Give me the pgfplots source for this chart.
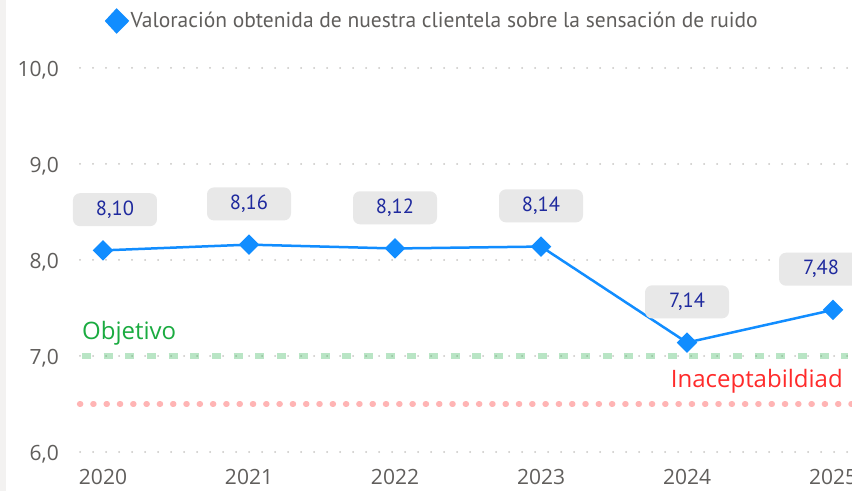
\documentclass[border=0pt]{standalone}
\usepackage{fontspec}
\setmainfont{Open Sans}
\newfontfamily\dinfont{PT Sans}
\usepackage{pgfplots}
\pgfplotsset{compat=1.18}
\definecolor{LineBlue}{HTML}{118DFF}
\definecolor{LabelBlue}{HTML}{1F2A9E}
\definecolor{BoxGray}{HTML}{E8E8E8}
\definecolor{TickGray}{HTML}{605E5C}
\definecolor{GridGray}{HTML}{C8C6C4}
\definecolor{GoalGreen}{HTML}{1AAB40}
\definecolor{BadRed}{HTML}{FF2B2B}
\definecolor{BadFill}{HTML}{FFB4B4}
\definecolor{Strip}{HTML}{F3F2F1}

\pgfplotsset{
  labelbox/.style={draw=none, forget plot,
    nodes near coords={\pgfmathprintnumber[fixed,fixed zerofill,precision=2,use comma,assume math mode=true]{\pgfplotspointmeta}},
    every node near coord/.append style={fill=BoxGray, rounded corners=7bp,
      minimum width=84bp, minimum height=33bp, inner sep=0pt,
      text=LabelBlue, font=\dinfont\fontsize{20.5bp}{24bp}\selectfont,
      anchor=south, yshift=24bp}},
}

\begin{document}
\begin{tikzpicture}
\clip (0bp,0bp) rectangle (852bp,491bp);
\fill[white] (0bp,0bp) rectangle (852bp,491bp);
\fill[Strip] (0bp,0bp) rectangle (6bp,491bp);
\begin{axis}[
  at={(80bp,39bp)}, anchor=south west,
  scale only axis, width=772bp, height=384bp,
  xmin=2019.8425, xmax=2025.13, ymin=6, ymax=10,
  axis line style={draw=none}, major tick length=0pt,
  xtick={2020,2021,2022,2023,2024,2025},
  xticklabels={2020,2021,2022,2023,2024,2025},
  ytick={6,7,8,9,10},
  yticklabels={{6,0},{7,0},{8,0},{9,0},{10,0}},
  ymajorgrids,
  major grid style={GridGray, line width=2bp, line cap=round, dash pattern=on 0bp off 13bp},
  tick label style={text=TickGray, font=\fontsize{21bp}{24bp}\selectfont},
  xticklabel style={anchor=base, yshift=-33bp, inner sep=0pt},
  yticklabel style={anchor=base east, xshift=-21bp, yshift=-9bp, inner sep=0pt},
  legend style={at={(0.4566,1.1224)}, anchor=center, draw=none, fill=none,
    font=\dinfont\fontsize{21.5bp}{24bp}\selectfont, text=TickGray},
  legend image code/.code={\fill[LineBlue] (0.2cm,-11bp)--(0.2cm+10.5bp,0)--(0.2cm,11bp)--(0.2cm-10.5bp,0)--cycle;},
  clip=false
]
\addplot[LineBlue, line width=2.5bp, mark=square*, mark size=6bp, mark options={rotate=45}]
  coordinates {(2020,8.10)(2021,8.16)(2022,8.12)(2023,8.14)(2024,7.14)(2025,7.48)};
\addlegendentry{Valoración obtenida de nuestra clientela sobre la sensación de ruido}
% objetivo y umbral
\addplot[GoalGreen, opacity=0.3, line width=6bp, dash pattern=on 9bp off 12.7bp, forget plot]
  coordinates {(2019.855,7)(2025.1,7)};
\addplot[BadFill, line width=5.5bp, line cap=round, dash pattern=on 1bp off 12.3bp, forget plot]
  coordinates {(2019.84,6.5)(2025.13,6.5)};
% etiquetas
\addplot[labelbox, every node near coord/.append style={xshift=12bp}] coordinates {(2020,8.10)};
\addplot[labelbox] coordinates {(2021,8.16)(2022,8.12)(2023,8.14)(2024,7.14)};
\addplot[labelbox, every node near coord/.append style={xshift=-12bp}] coordinates {(2025,7.48)};
\node[anchor=base west, inner sep=0pt, text=GoalGreen, font=\fontsize{24bp}{28bp}\selectfont]
  at (axis cs:2019.856,7.177) {Objetivo};
\node[anchor=base east, inner sep=0pt, text=BadRed, font=\fontsize{24bp}{28bp}\selectfont]
  at (axis cs:2025.068,6.667) {Inaceptabildiad};
\end{axis}
\end{tikzpicture}
\end{document}
